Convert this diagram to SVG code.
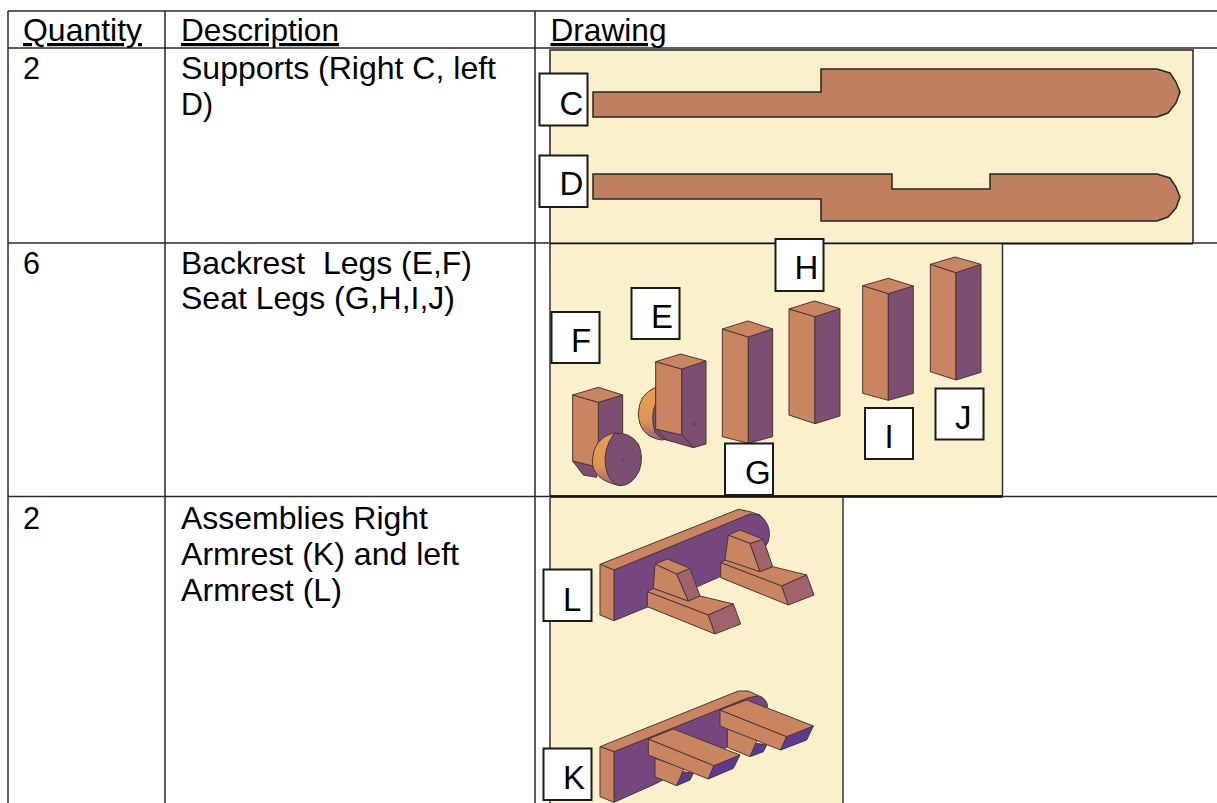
<svg xmlns="http://www.w3.org/2000/svg" width="1217" height="803" viewBox="0 0 1217 803">
<defs>
<linearGradient id="rim" x1="0" y1="0" x2="0" y2="1"><stop offset="0" stop-color="#e8a054"/><stop offset=".65" stop-color="#dc9455"/><stop offset="1" stop-color="#96607a"/></linearGradient>
</defs>
<style>
text{font-family:"Liberation Sans",Arial,sans-serif;fill:#000}
.t{font-size:32px}
.h{text-decoration:underline}
.lab{font-size:33px}
.box{fill:#fff;stroke:#1a1a1a;stroke-width:2}
.ln{stroke:#2a2a2a;stroke-width:1.5;fill:none}
.panel{fill:#faf0cb}
.s{stroke:#4a3438;stroke-width:3;stroke-linejoin:round}
.o{fill:#c98560}
.p{fill:#7b4e72}
.v{fill:#76467f}
.m{fill:#a1636b}
.b{fill:#5b3a8f}
.flat{fill:#bf8060;stroke:#2a2420;stroke-width:1.5}
</style>
<rect width="1217" height="803" fill="#fff"/>

<g id="table">
<path class="ln" d="M8 11H1217M8 48H1217M8 243H1217M8 496.500H1217M8 11V803M165 11V803M535 11V803"/>
</g>

<g id="cells">
<text class="t h" x="23" y="41" textLength="119" lengthAdjust="spacingAndGlyphs">Quantity</text>
<text class="t h" x="181" y="41" textLength="158" lengthAdjust="spacingAndGlyphs">Description</text>
<text class="t h" x="550.500" y="41" textLength="116" lengthAdjust="spacingAndGlyphs">Drawing</text>
<text class="t" x="23" y="79" textLength="17" lengthAdjust="spacingAndGlyphs">2</text>
<text class="t" x="181" y="79" textLength="315" lengthAdjust="spacingAndGlyphs">Supports (Right C, left</text>
<text class="t" x="181" y="115" textLength="32" lengthAdjust="spacingAndGlyphs">D)</text>
<text class="t" x="23" y="274" textLength="17" lengthAdjust="spacingAndGlyphs">6</text>
<text class="t" x="181" y="274" textLength="291" lengthAdjust="spacingAndGlyphs" xml:space="preserve">Backrest  Legs (E,F)</text>
<text class="t" x="181" y="309" textLength="274" lengthAdjust="spacingAndGlyphs">Seat Legs (G,H,I,J)</text>
<text class="t" x="23" y="529" textLength="17" lengthAdjust="spacingAndGlyphs">2</text>
<text class="t" x="181" y="529" textLength="247" lengthAdjust="spacingAndGlyphs">Assemblies Right</text>
<text class="t" x="181" y="565" textLength="278" lengthAdjust="spacingAndGlyphs">Armrest (K) and left</text>
<text class="t" x="181" y="601" textLength="161" lengthAdjust="spacingAndGlyphs">Armrest (L)</text>
</g>

<g id="panel-supports">
<rect class="panel" x="550" y="50" width="643" height="193"/>
<path d="M550 243V50H1193V243" fill="none" stroke="#222" stroke-width="1.500"/>
<path d="M550 243.500H1193" stroke="#111" stroke-width="2"/>
<path class="flat" d="M593 92H821V69H1157L1170 73L1176 82L1180 92L1176 103L1168 113L1157 117H593Z"/>
<path class="flat" d="M593 174H892V189H990V174H1157L1170 178L1176 187L1180 197L1176 208L1168 217L1157 221H821V199H593Z"/>
</g>

<g id="panel-legs">
<rect class="panel" x="550" y="244.500" width="452.500" height="252"/>
<path d="M550 244V496H1002.500V244" fill="none" stroke="#333" stroke-width="1.500"/>
<path d="M550 496.500H1002.500" stroke="#111" stroke-width="2.500"/>
<g transform="translate(540 240) scale(.33333)">
<g id="leg-e">
<path fill="url(#rim)" class="s" d="M347 442Q297 462 295 520Q297 590 365 600L420 590L347 490Z"/>
<path class="p s" d="M347 490Q330 530 345 575Q360 600 400 604L440 612L470 560L400 490Z"/>
<path class="p s" d="M425 387L498 363V612L460 623L425 583Z"/>
<path class="p s" d="M347 567L425 583L460 623L380 600Z"/>
<path class="o s" d="M347 365L425 387V585L347 567Z"/>
<path class="o s" d="M347 365L422 342L498 363L425 387Z"/>
<circle cx="462" cy="550" r="4" fill="#8a5a40" stroke="#3a3034" stroke-width="1.500"/>
</g>
<g id="leg-f">
<path class="p s" d="M175 487L248 465V620L175 680Z"/>
<path class="p s" d="M98 663L130 705L170 712V680Z"/>
<path class="o s" d="M98 465L175 487V682L98 663Z"/>
<path class="o s" d="M98 465L175 442L248 465L175 487Z"/>
<path fill="url(#rim)" class="s" d="M222 578Q160 595 157 660Q155 720 240 737L280 700L260 590Z"/>
<path class="p s" d="M222 580Q270 575 295 612Q312 650 298 692Q275 738 240 737Q205 728 197 680Q188 630 222 580Z"/>
<circle cx="249" cy="662" r="4" fill="#8a5a40" stroke="#3a3034" stroke-width="1.500"/>
</g>
<g id="leg-g">
<path class="o s" d="M547 267L625 291V610L547 590Z"/><path class="p s" d="M625 291L698 267V590L625 610Z"/><path class="o s" d="M547 267L623 243L698 267L625 291Z"/>
</g>
<g id="leg-h">
<path class="o s" d="M747 207L825 230V551L747 525Z"/><path class="p s" d="M825 230L900 206V528L825 551Z"/><path class="o s" d="M747 207L823 183L900 206L825 230Z"/>
</g>
<g id="leg-i">
<path class="o s" d="M968 137L1045 161V481L968 460Z"/><path class="p s" d="M1045 161L1120 138V460L1045 481Z"/><path class="o s" d="M968 137L1045 115L1120 138L1045 161Z"/>
</g>
<g id="leg-j">
<path class="o s" d="M1171 73L1248 98V420L1171 395Z"/><path class="p s" d="M1248 98L1323 73V397L1248 420Z"/><path class="o s" d="M1171 73L1245 51L1323 73L1248 98Z"/>
</g>
</g>
</g>

<g id="panel-assemblies">
<rect class="panel" x="550" y="498" width="293" height="305"/>
<path d="M550 498V803M843 498V803" stroke="#333" stroke-width="1.500" fill="none"/>
<g id="assembly-l" transform="translate(540 495) scale(.33333)">
<path class="v s" d="M222 225L630 57L660 60Q692 88 688 125Q686 145 675 155L540 245L472 275L222 377Z"/>
<path class="o s" d="M180 208L595 43L630 50L660 60L630 57L222 225Z"/>
<path class="o s" d="M180 208L222 225V377L180 360Z"/>
<path class="o s" d="M322 290L340 280L445 318L480 303L580 327L505 360Z"/>
<path class="o s" d="M322 290L505 360L525 417L322 335Z"/>
<path class="m s" d="M505 360L580 327L602 387L525 417Z"/>
<path class="o s" d="M345 207L410 237L445 318L340 280Z"/>
<path class="m s" d="M410 237L450 220L480 303L445 318Z"/>
<path class="o s" d="M345 207L382 192L450 220L410 237Z"/>
<path class="o s" d="M542 203L560 193L660 230L698 215L800 240L725 273Z"/>
<path class="o s" d="M542 203L725 273L745 330L542 248Z"/>
<path class="m s" d="M725 273L800 240L822 300L745 330Z"/>
<path class="o s" d="M565 120L630 145L660 230L555 195Z"/>
<path class="m s" d="M630 145L670 133L698 215L660 230Z"/>
<path class="o s" d="M565 120L600 105L670 133L630 145Z"/>
</g>
<g id="assembly-k" transform="translate(540 660) scale(.33333)">
<path class="v s" d="M222 275L625 112L660 108Q682 120 683 140L560 262L345 372L222 427Z"/>
<path class="o s" d="M180 260L595 93L625 93L655 107L620 115L222 275Z"/>
<path class="o s" d="M180 260L222 275V427L180 410Z"/>
<path class="o s" d="M345 295L432 325L410 377L345 350Z"/>
<path class="b s" d="M430 335L460 340L450 360L410 377Z"/>
<path class="o s" d="M325 237L522 317L505 357L325 285Z"/>
<path class="b s" d="M522 317L600 285L580 325L505 357Z"/>
<path class="o s" d="M325 237L400 207L600 285L522 317Z"/>
<path class="o s" d="M562 207L652 238L630 290L562 262Z"/>
<path class="b s" d="M650 250L680 255L670 275L630 290Z"/>
<path class="o s" d="M540 150L740 230L722 270L540 198Z"/>
<path class="b s" d="M740 230L820 198L800 240L722 270Z"/>
<path class="o s" d="M540 150L620 120L820 198L740 230Z"/>
</g>
</g>

<g id="label-c"><rect class="box" x="539.500" y="73.500" width="48" height="52"/><text class="lab" x="559.500" y="115">C</text></g>
<g id="label-d"><rect class="box" x="539.500" y="155.500" width="48" height="51.500"/><text class="lab" x="559.500" y="195">D</text></g>
<g id="label-h"><rect class="box" x="775.500" y="239" width="48" height="52"/><text class="lab" x="794.500" y="279">H</text></g>
<g id="label-e"><rect class="box" x="631.500" y="288" width="48" height="51"/><text class="lab" x="651" y="328">E</text></g>
<g id="label-f"><rect class="box" x="551.500" y="312" width="48" height="51"/><text class="lab" x="571" y="352">F</text></g>
<g id="label-g"><rect class="box" x="725" y="443.500" width="48" height="51.500"/><text class="lab" x="745" y="484">G</text></g>
<g id="label-i"><rect class="box" x="865" y="408" width="48" height="51"/><text class="lab" x="884.500" y="448">I</text></g>
<g id="label-j"><rect class="box" x="935.500" y="388.500" width="48" height="51"/><text class="lab" x="955" y="429">J</text></g>
<g id="label-l"><rect class="box" x="543.500" y="569.500" width="48" height="51.500"/><text class="lab" x="563" y="611">L</text></g>
<g id="label-k"><rect class="box" x="543.500" y="748.500" width="48" height="51.500"/><text class="lab" x="563" y="789">K</text></g>
</svg>
